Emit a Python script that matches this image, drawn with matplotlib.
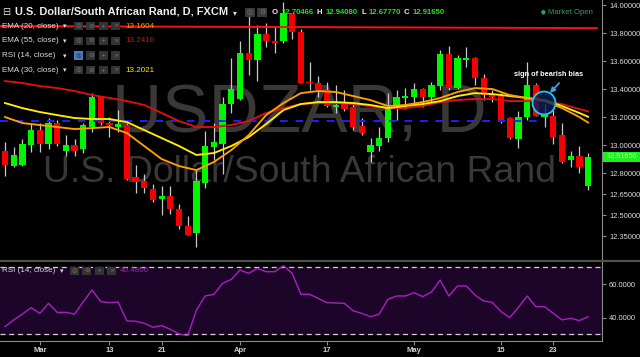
import matplotlib
matplotlib.use("Agg")
import matplotlib.pyplot as plt
from matplotlib.patches import Rectangle, Circle
from matplotlib.lines import Line2D

# ---------------- data ----------------
date_tick_index = [4, 12, 18, 27, 37, 47, 57, 63]
date_tick_labels = ["Mar", "13", "21", "Apr", "17", "May", "15", "23"]
price_ticks = [14.0, 13.8, 13.6, 13.4, 13.2, 13.0, 12.8, 12.65, 12.5, 12.35]
rsi_ticks = [40, 60]

opens = [12.96, 12.85, 12.86, 13.00, 13.11, 13.01, 13.16, 12.96, 13.00, 12.97,
         13.13, 13.34, 13.16, 13.13, 13.14, 12.77, 12.74, 12.686, 12.614, 12.636,
         12.54, 12.42, 12.37, 12.73, 12.986, 13.01, 13.29, 13.33, 13.66, 13.61,
         13.79, 13.74, 13.74, 13.94, 13.81, 13.45, 13.44, 13.39, 13.27, 13.29,
         13.27, 13.136, 12.95, 12.99, 13.05, 13.27, 13.335, 13.34, 13.40, 13.34,
         13.42, 13.65, 13.41, 13.61, 13.62, 13.48, 13.36, 13.35, 13.19, 13.04,
         13.20, 13.43, 13.20, 13.21, 13.07, 12.89, 12.92, 12.70466]
highs = [13.02, 12.985, 13.04, 13.15, 13.16, 13.19, 13.18, 13.07, 13.04, 13.16,
         13.37, 13.35, 13.20, 13.25, 13.16, 12.86, 12.79, 12.72, 12.71, 12.71,
         12.58, 12.49, 12.82, 13.10, 13.16, 13.34, 13.62, 13.74, 13.94, 13.86,
         13.87, 13.84, 14.02, 13.94, 13.83, 13.59, 13.49, 13.45, 13.43, 13.39,
         13.30, 13.19, 13.05, 13.13, 13.37, 13.39, 13.41, 13.44, 13.41, 13.45,
         13.68, 13.71, 13.64, 13.70, 13.63, 13.51, 13.39, 13.37, 13.20, 13.24,
         13.59, 13.44, 13.29, 13.25, 13.16, 12.96, 12.99, 12.9408]
lows = [12.78, 12.84, 12.85, 12.95, 12.95, 12.97, 12.99, 12.92, 12.92, 12.94,
        13.09, 13.14, 13.06, 13.09, 12.75, 12.66, 12.66, 12.59, 12.50, 12.51,
        12.40, 12.36, 12.27, 12.69, 12.89, 12.79, 13.23, 13.32, 13.50, 13.46,
        13.70, 13.66, 13.73, 13.76, 13.44, 13.39, 13.34, 13.27, 13.23, 13.24,
        13.11, 13.07, 12.88, 12.96, 13.02, 13.18, 13.26, 13.29, 13.27, 13.30,
        13.39, 13.39, 13.40, 13.56, 13.43, 13.32, 13.31, 13.16, 13.04, 12.98,
        13.18, 13.21, 13.13, 13.01, 12.87, 12.84, 12.80, 12.6777]
closes = [12.86, 12.93, 13.01, 13.11, 13.01, 13.16, 13.01, 13.00, 12.96, 13.14,
          13.34, 13.16, 13.14, 13.15, 12.76, 12.735, 12.69, 12.61, 12.636, 12.543,
          12.42, 12.36, 12.74, 12.99, 13.02, 13.29, 13.40, 13.66, 13.61, 13.79,
          13.74, 13.73, 13.94, 13.81, 13.44, 13.44, 13.39, 13.28, 13.285, 13.26,
          13.13, 13.086, 13.00, 13.05, 13.27, 13.34, 13.35, 13.40, 13.34, 13.43,
          13.65, 13.41, 13.62, 13.615, 13.48, 13.36, 13.34, 13.17, 13.05, 13.20,
          13.43, 13.21, 13.23, 13.06, 12.88, 12.92, 12.84, 12.9165]

ema_index = list(range(0, 68, 2)) + [67]
ema20 = [13.20, 13.157, 13.143, 13.129, 13.114, 13.121, 13.129, 13.086, 12.993, 12.90,
         12.85, 12.821, 12.879, 12.964, 13.071, 13.214, 13.30, 13.371, 13.386, 13.379,
         13.35, 13.321, 13.279, 13.286, 13.307, 13.336, 13.379, 13.407, 13.40, 13.357,
         13.336, 13.314, 13.264, 13.20, 13.1604]
ema30 = [13.30, 13.264, 13.236, 13.214, 13.193, 13.186, 13.186, 13.164, 13.107, 13.05,
         12.993, 12.929, 12.943, 12.993, 13.057, 13.15, 13.25, 13.293, 13.307, 13.307,
         13.30, 13.286, 13.264, 13.279, 13.293, 13.314, 13.35, 13.371, 13.364, 13.35,
         13.336, 13.321, 13.279, 13.229, 13.2021]
ema55 = [13.457, 13.443, 13.421, 13.407, 13.386, 13.357, 13.336, 13.314, 13.286, 13.229,
         13.171, 13.129, 13.129, 13.143, 13.171, 13.229, 13.264, 13.293, 13.30, 13.30,
         13.293, 13.279, 13.264, 13.264, 13.279, 13.307, 13.321, 13.329, 13.329, 13.314,
         13.314, 13.314, 13.293, 13.257, 13.2410]

rsi = [34.6, 38.6, 42.1, 45.9, 42.5, 48.5, 43.1, 43.1, 42.1, 49.5,
       56.5, 49.5, 48.9, 49.3, 38.0, 37.8, 36.6, 34.2, 35.2, 33.0,
       30.2, 29.2, 44.5, 52.9, 53.9, 60.4, 62.8, 68.4, 66.4, 69.4,
       67.4, 67.4, 71.0, 66.4, 53.9, 53.9, 51.5, 48.9, 48.7, 48.5,
       44.1, 42.5, 40.5, 42.1, 50.9, 52.9, 52.9, 54.9, 52.5, 55.3,
       62.4, 52.9, 58.9, 58.9, 53.5, 49.9, 49.1, 43.5, 40.0, 46.1,
       52.9, 46.5, 46.5, 42.5, 38.6, 39.6, 38.2, 40.4866]

trend_level = [13.85, 13.835]       # red trend line (start, end)
support_level = 13.17                # blue dashed line
support_end_index = 61.5
last_price = 12.9165

# ---------------- figure ----------------
W, H = 640, 357
FONT = ["Liberation Sans", "DejaVu Sans"]
plt.rcParams["font.family"] = FONT

fig = plt.figure(figsize=(6.4, 3.57), dpi=100, facecolor="black")
X0, X1 = -0.575, 68.6

ax = fig.add_axes([0, 1 - 260 / H, 602 / W, 260 / H], facecolor="black")
ax.set_xlim(X0, X1)
ax.set_ylim(12.179, 14.036)
for s in ["top", "left", "bottom"]:
    ax.spines[s].set_visible(False)
ax.spines["right"].set_color("#8a8a8a")
ax.yaxis.tick_right()
ax.set_yticks(price_ticks)
ax.set_yticklabels([f"{v:.5f}" for v in price_ticks])
ax.tick_params(axis="y", colors="#8a8a8a", labelcolor="#dcdcdc", labelsize=5.4,
               length=3, pad=2)
ax.set_xticks([])

rax = fig.add_axes([0, 1 - 341 / H, 602 / W, (341 - 262) / H], facecolor="black")
rax.set_xlim(X0, X1)
rax.set_ylim(26.0, 73.2)
for s in ["top", "left"]:
    rax.spines[s].set_visible(False)
rax.spines["right"].set_color("#8a8a8a")
rax.spines["bottom"].set_color("#8a8a8a")
rax.yaxis.tick_right()
rax.set_yticks(rsi_ticks)
rax.set_yticklabels([f"{v:.4f}" for v in rsi_ticks])
rax.set_xticks(date_tick_index)
rax.set_xticklabels(date_tick_labels, fontweight="bold")
rax.tick_params(axis="y", colors="#8a8a8a", labelcolor="#dcdcdc", labelsize=5.4,
                length=3, pad=2)
rax.tick_params(axis="x", colors="#8a8a8a", labelcolor="#d0d0d0", labelsize=5.5,
                length=3, pad=1.5)

ov = fig.add_axes([0, 0, 1, 1], facecolor="none")
ov.set_xlim(0, W)
ov.set_ylim(H, 0)
ov.axis("off")

# watermark (inside price axes, beneath candles)
wm = "#3b3734"
ax.text(299, 132, "USDZAR, D", transform=ov.transData, ha="center", va="baseline",
        fontsize=50, color=wm, zorder=0)
ax.text(299.5, 182, "U.S. Dollar/South African Rand", transform=ov.transData,
        ha="center", va="baseline", fontsize=26.9, color=wm, zorder=0)

# candles
for i in range(len(opens)):
    o, h, l, c = opens[i], highs[i], lows[i], closes[i]
    col = "#00f500" if c >= o else "#f50000"
    ax.vlines(i, l, h, color="#c8c8c8", lw=0.9, zorder=2)
    lo = min(o, c)
    ht = max(abs(c - o), 0.011)
    ax.add_patch(Rectangle((i - 0.36, lo), 0.72, ht, facecolor=col, edgecolor="none", zorder=3))

# lines
ax.plot([X0, 68.0], trend_level, color="#ff1010", lw=1.4, zorder=4)
ax.plot([X0, support_end_index], [support_level, support_level], color="#1a22ff", lw=1.4,
        dashes=(4, 4), zorder=4)
ax.plot(ema_index, ema55, color="#e00e0e", lw=1.35, zorder=5)
ax.plot(ema_index, ema30, color="#ffee00", lw=1.35, zorder=5)
ax.plot(ema_index, ema20, color="#ffa000", lw=1.35, zorder=5)

# annotation circle + arrow + text
ax.add_patch(Circle((544, 103), 11.5, transform=ov.transData, facecolor=(0.04, 0.12, 0.36, 0.8),
                    edgecolor="#20c8e8", lw=1.3, zorder=6))
ov.annotate("", xy=(548, 95), xytext=(561, 81),
            arrowprops=dict(arrowstyle="-|>", color="#3aa0f0", lw=1.3, mutation_scale=7))
ov.text(549, 75, "sign of bearish bias", ha="center", va="center", fontsize=5.3,
        fontweight="bold", color="white")

# RSI pane
rax.axhspan(30, 70, color="#1c0528", zorder=0)
rax.axhline(70, color="#d0d0d0", lw=0.9, dashes=(4, 3), zorder=1)
rax.axhline(30, color="#d0d0d0", lw=0.9, dashes=(4, 3), zorder=1)
rax.plot(range(len(rsi)), rsi, color="#a820c0", lw=1.0, zorder=2)

# pane separator
ov.add_line(Line2D([0, W], [260.5, 260.5], color="#505050", lw=1.6))

# last price tag
ov.add_patch(Rectangle((603, 151.5), 37, 10.5, facecolor="#1ef01e", edgecolor="none"))
ov.text(606, 157, f"{last_price:.5f}", va="center", ha="left", fontsize=5.2, color="#c8ffc8")


def icons(x, y, n, highlight=False):
    syms = ["\u25ce", "\u2699", "+", "\u00d7"]
    for k in range(n):
        bx = x + k * 12.3
        fc = "#4a7cc0" if (highlight and k == 0) else "#333333"
        ov.add_patch(Rectangle((bx, y - 4.3), 9, 8.6, facecolor=fc, edgecolor="none"))
        ov.text(bx + 4.5, y, syms[k], ha="center", va="center", fontsize=4.6,
                color="#1a1a1a" if (highlight and k == 0) else "#7a7a7a",
                fontfamily=["DejaVu Sans"])


# header
ov.text(2.5, 12, "\u229f", va="center", ha="left", fontsize=7, color="#e0e0e0",
        fontfamily=["DejaVu Sans"])
ov.text(15, 12, "U.S. Dollar/South African Rand, D, FXCM", va="center", ha="left",
        fontsize=7.9, fontweight="bold", color="#eeeeee")
ov.text(233, 12.5, "\u25be", va="center", ha="left", fontsize=5.5, color="#dddddd",
        fontfamily=["DejaVu Sans"])
for k, sym in enumerate(["\u25ce", "\u2699"]):
    ov.add_patch(Rectangle((245 + k * 12, 7.5), 10, 9.5, facecolor="#3a3a3a", edgecolor="none"))
    ov.text(250 + k * 12, 12.3, sym, ha="center", va="center", fontsize=5, color="#777777",
            fontfamily=["DejaVu Sans"])
green = "#22e022"
ohlc = [("O", 272, "12.70466", 282), ("H", 316.5, "12.94080", 326),
        ("L", 361.5, "12.67770", 369), ("C", 403.5, "12.91650", 413)]
for lab, lx, val, vx in ohlc:
    ov.text(lx, 12, lab, va="center", ha="left", fontsize=5.6, fontweight="bold", color="#eeeeee")
    ov.text(vx, 12, val, va="center", ha="left", fontsize=5.6, fontweight="bold", color=green)
ov.text(541, 12, "\u25cf", va="center", ha="left", fontsize=4, color="#2a9d6b",
        fontfamily=["DejaVu Sans"])
ov.text(548, 12, "Market Open", va="center", ha="left", fontsize=5.6, color="#2a9d6b")

# indicator legends
rows = [("EMA (20, close)", 26, "13.1604", "#ff9900", False),
        ("EMA (55, close)", 41, "13.2410", "#c81414", False),
        ("RSI (14, close)", 55.5, None, None, True),
        ("EMA (30, close)", 70, "13.2021", "#ffee00", False)]
for name, y, val, vc, hl in rows:
    ov.text(2, y, name, va="center", ha="left", fontsize=5.8, color="#dddddd")
    ov.text(63, y + 0.5, "\u25be", va="center", ha="left", fontsize=5, color="#dddddd",
            fontfamily=["DejaVu Sans"])
    icons(74, y, 4, highlight=hl)
    if val:
        ov.text(125, y, val, va="center", ha="left", fontsize=5.8, color=vc)

ov.text(2, 271, "RSI (14, close)", va="center", ha="left", fontsize=5.8, color="#dddddd")
ov.text(60, 271.5, "\u25be", va="center", ha="left", fontsize=5, color="#dddddd",
        fontfamily=["DejaVu Sans"])
icons(70, 271, 4)
ov.text(120, 271, "40.4866", va="center", ha="left", fontsize=5.8, color="#9a2cb0")

fig.savefig("out.png", dpi=100, facecolor="black")
